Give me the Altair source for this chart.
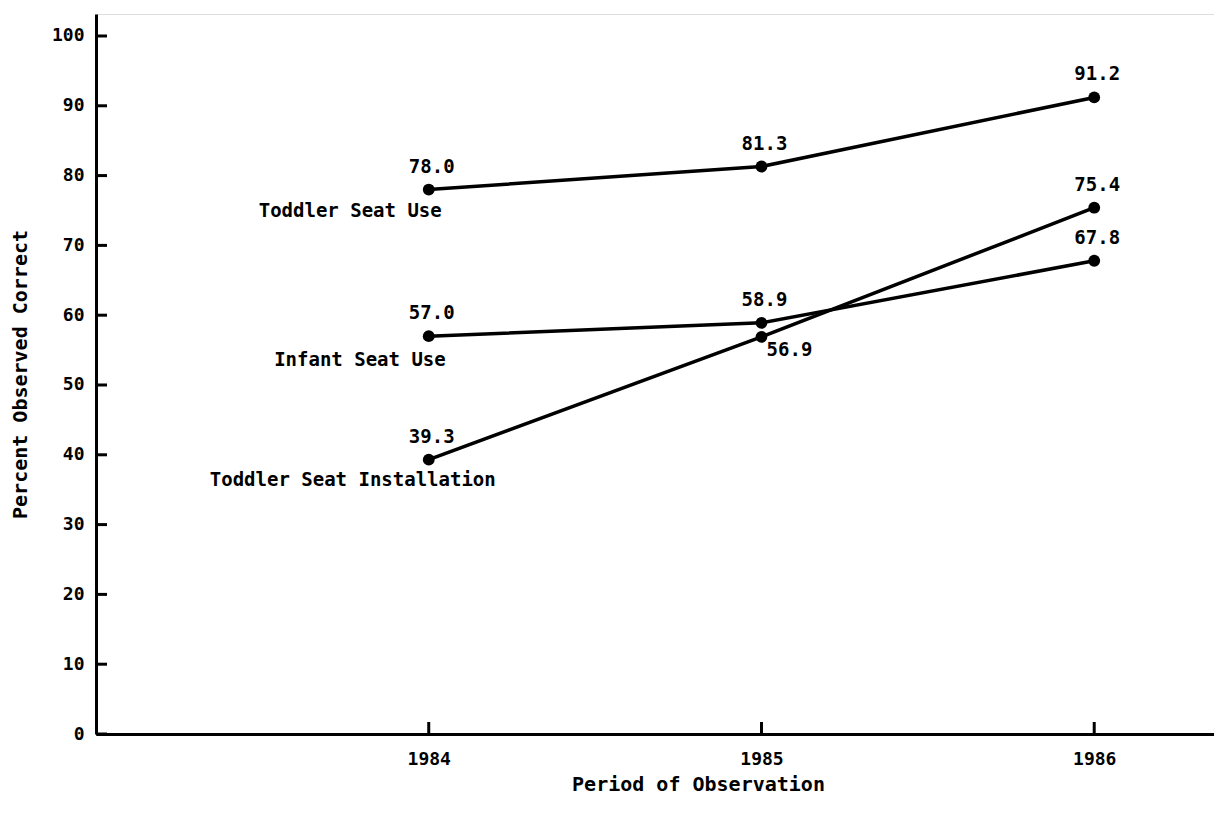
import altair as alt
import pandas as pd

years = [1984, 1985, 1986]
series_names = ["Toddler Seat Use", "Infant Seat Use", "Toddler Seat Installation"]
toddler_use = [78.0, 81.3, 91.2]
infant_use = [57.0, 58.9, 67.8]
toddler_install = [39.3, 56.9, 75.4]
y_ticks = [0, 10, 20, 30, 40, 50, 60, 70, 80, 90, 100]

FONT = "DejaVu Sans Mono"

rows = []
for name, vals in zip(series_names, [toddler_use, infant_use, toddler_install]):
    for yr, v in zip(years, vals):
        rows.append({"series": name, "year": yr, "value": v, "label": f"{v:.1f}"})
df = pd.DataFrame(rows)

xscale = alt.Scale(domain=[1983, 1986.36], nice=False, zero=False)
yscale = alt.Scale(domain=[0, 103.15], nice=False)

base = alt.Chart(df)

xaxis = alt.Axis(
    values=years, format="d", ticks=False, grid=False,
    domainColor="black", domainWidth=3,
    labelFont=FONT, labelFontSize=18, labelFontWeight="bold", labelColor="black",
    labelPadding=16,
    title="Period of Observation", titleFont=FONT, titleFontSize=20,
    titleFontWeight="bold", titleColor="black", titlePadding=6,
    titleX=602, titleAlign="center",
)
yaxis = alt.Axis(
    values=y_ticks, ticks=False, grid=False,
    domainColor="black", domainWidth=3,
    labelFont=FONT, labelFontSize=18, labelFontWeight="bold", labelColor="black",
    labelPadding=12,
    title="Percent Observed Correct", titleFont=FONT, titleFontSize=20,
    titleFontWeight="bold", titleColor="black",
    titleX=-76, titleY=360, titleAlign="center", titleBaseline="middle", titleAngle=270,
)

lines = base.mark_line(color="black", strokeWidth=3.5).encode(
    x=alt.X("year:Q", scale=xscale, axis=xaxis),
    y=alt.Y("value:Q", scale=yscale, axis=yaxis),
    detail="series:N",
)
points = base.mark_circle(color="black", size=140, opacity=1).encode(
    x=alt.X("year:Q", scale=xscale, axis=xaxis),
    y=alt.Y("value:Q", scale=yscale, axis=yaxis),
)

above = base.transform_filter(alt.datum.label != "56.9").mark_text(
    font=FONT, fontSize=19, fontWeight="bold", color="black", dy=-23, dx=3, baseline="middle"
).encode(
    x=alt.X("year:Q", scale=xscale, axis=xaxis),
    y=alt.Y("value:Q", scale=yscale, axis=yaxis),
    text="label:N",
)
below = base.transform_filter(alt.datum.label == "56.9").mark_text(
    font=FONT, fontSize=19, fontWeight="bold", color="black", dy=13, dx=28, baseline="middle"
).encode(
    x=alt.X("year:Q", scale=xscale, axis=xaxis),
    y=alt.Y("value:Q", scale=yscale, axis=yaxis),
    text="label:N",
)

name_offsets = {"Toddler Seat Use": (13, 21), "Infant Seat Use": (17, 24), "Toddler Seat Installation": (67, 20)}
name_layers = []
for name in series_names:
    dx, dy = name_offsets[name]
    name_layers.append(
        alt.Chart(df[(df.series == name) & (df.year == years[0])]).mark_text(
            font=FONT, fontSize=19, fontWeight="bold", color="black",
            align="right", baseline="middle", dx=dx, dy=dy,
        ).encode(
            x=alt.X("year:Q", scale=xscale, axis=xaxis),
            y=alt.Y("value:Q", scale=yscale, axis=yaxis),
            text="series:N",
        )
    )

ytick_df = pd.DataFrame({"t": y_ticks})
yticks = alt.Chart(ytick_df).mark_rule(color="black", strokeWidth=3).encode(
    y=alt.Y("t:Q", scale=yscale, axis=yaxis), x=alt.value(0), x2=alt.value(11)
)
xtick_df = pd.DataFrame({"yr": years})
xticks = alt.Chart(xtick_df).mark_rule(color="black", strokeWidth=3).encode(
    x=alt.X("yr:Q", scale=xscale, axis=xaxis), y=alt.value(720), y2=alt.value(708)
)

chart = alt.layer(lines, points, above, below, *name_layers, yticks, xticks).properties(
    width=1118, height=720,
    autosize=alt.AutoSizeParams(type="none"),
    padding={"left": 88, "top": 6, "right": 0, "bottom": 70},
).configure_view(stroke="transparent", strokeWidth=0).configure_axis(grid=False).configure(background="white")

chart.save("out.html", embed_options={"renderer": "svg", "actions": False})
